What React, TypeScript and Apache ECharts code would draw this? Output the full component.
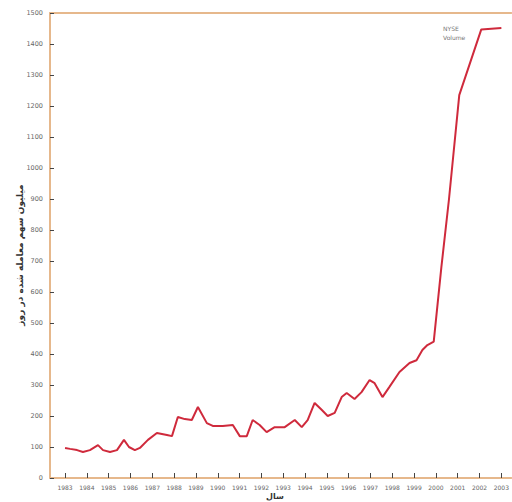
import React, { useEffect, useRef } from "react";
import * as echarts from "echarts";

const years: number[] = [
  1983.0, 1983.23, 1983.55, 1983.82, 1984.14, 1984.51, 1984.74, 1985.06, 1985.38, 1985.7,
  1985.93, 1986.2, 1986.43, 1986.8, 1987.21, 1987.67, 1987.9, 1988.17, 1988.49, 1988.81,
  1989.09, 1989.5, 1989.77, 1990.23, 1990.69, 1991.01, 1991.33, 1991.6, 1991.92, 1992.24,
  1992.61, 1993.07, 1993.53, 1993.85, 1994.12, 1994.44, 1994.76, 1995.04, 1995.36, 1995.68,
  1995.91, 1996.27, 1996.59, 1996.96, 1997.19, 1997.55, 1997.87, 1998.33, 1998.79, 1999.11,
  1999.38, 1999.61, 1999.9, 2000.25, 2000.6, 2001.07, 2002.08, 2003.0,
];
const volume: number[] = [
  97, 94, 90, 84, 90, 106, 90, 84, 90, 123,
  100, 90, 97, 123, 145, 139, 135, 197, 190, 187,
  229, 177, 168, 168, 171, 135, 135, 187, 171, 148,
  164, 164, 187, 164, 187, 242, 220, 200, 210, 261,
  274, 255, 277, 316, 306, 261, 294, 342, 371, 380,
  413, 429, 440, 680, 900, 1235, 1447, 1452,
];
const yearTicks: number[] = [
  1983, 1984, 1985, 1986, 1987, 1988, 1989, 1990, 1991, 1992, 1993, 1994, 1995, 1996, 1997,
  1998, 1999, 2000, 2001, 2002, 2003,
];
const yTitle = "میلیون سهم معامله شده در روز";
const xTitle = "سال";
const noteLines = ["NYSE", "Volume"];

export default function App() {
  const ref = useRef<HTMLDivElement>(null);
  useEffect(() => {
    if (!ref.current) return;
    const chart = echarts.init(ref.current, undefined, { renderer: "svg" });
    const axisColor = "#e6b88c";
    const tickColor = "#444";
    chart.setOption({
      animation: false,
      backgroundColor: "#ffffff",
      grid: { left: 50, right: 0, top: 13, bottom: 24 },
      xAxis: [
        {
          type: "value",
          min: 1982.31,
          max: 2003.46,
          position: "bottom",
          splitLine: { show: false },
          axisLine: { show: true, lineStyle: { color: axisColor, width: 2 } },
          axisTick: {
            show: true,
            inside: true,
            length: 5,
            customValues: yearTicks,
            lineStyle: { color: tickColor, width: 1 },
          },
          axisLabel: {
            show: true,
            customValues: yearTicks,
            fontSize: 6,
            color: "#666",
            margin: 6,
            fontFamily: "DejaVu Sans",
            formatter: (v: number) => String(Math.round(v)),
          },
        },
        {
          type: "value",
          min: 1982.31,
          max: 2003.46,
          position: "top",
          splitLine: { show: false },
          axisLine: { show: true, lineStyle: { color: axisColor, width: 2 } },
          axisTick: { show: false },
          axisLabel: { show: false },
        },
      ],
      yAxis: {
        type: "value",
        min: 0,
        max: 1500,
        interval: 100,
        splitLine: { show: false },
        axisLine: { show: true, lineStyle: { color: axisColor, width: 2 } },
        axisTick: { show: true, inside: true, length: 4, lineStyle: { color: tickColor, width: 1 } },
        axisLabel: {
          fontSize: 6.5,
          color: "#666",
          margin: 7,
          fontFamily: "DejaVu Sans",
          formatter: (v: number) => String(v),
        },
      },
      series: [
        {
          type: "line",
          xAxisIndex: 0,
          data: years.map((y, i) => [y, volume[i]]),
          symbol: "none",
          lineStyle: { color: "#cf2a3c", width: 2 },
        },
      ],
      graphic: [
        {
          type: "text",
          x: 20,
          y: 255,
          rotation: Math.PI / 2,
          style: {
            text: yTitle,
            fontSize: 9,
            fontWeight: "bold",
            fill: "#333",
            align: "center",
            verticalAlign: "middle",
            fontFamily: "DejaVu Sans",
          },
        },
        {
          type: "text",
          x: 275,
          y: 496,
          style: {
            text: xTitle,
            fontSize: 8,
            fontWeight: "bold",
            fill: "#333",
            align: "center",
            verticalAlign: "middle",
            fontFamily: "DejaVu Sans",
          },
        },
        {
          type: "text",
          x: 443,
          y: 24,
          style: {
            text: noteLines.join("\n"),
            fontSize: 6,
            lineHeight: 9,
            fill: "#777",
            align: "left",
            verticalAlign: "top",
            fontFamily: "DejaVu Sans",
          },
        },
      ],
    });
    return () => chart.dispose();
  }, []);
  return (
    <div
      ref={ref}
      style={{ position: "fixed", left: 0, top: 0, width: 512, height: 502, background: "#fff" }}
    />
  );
}
